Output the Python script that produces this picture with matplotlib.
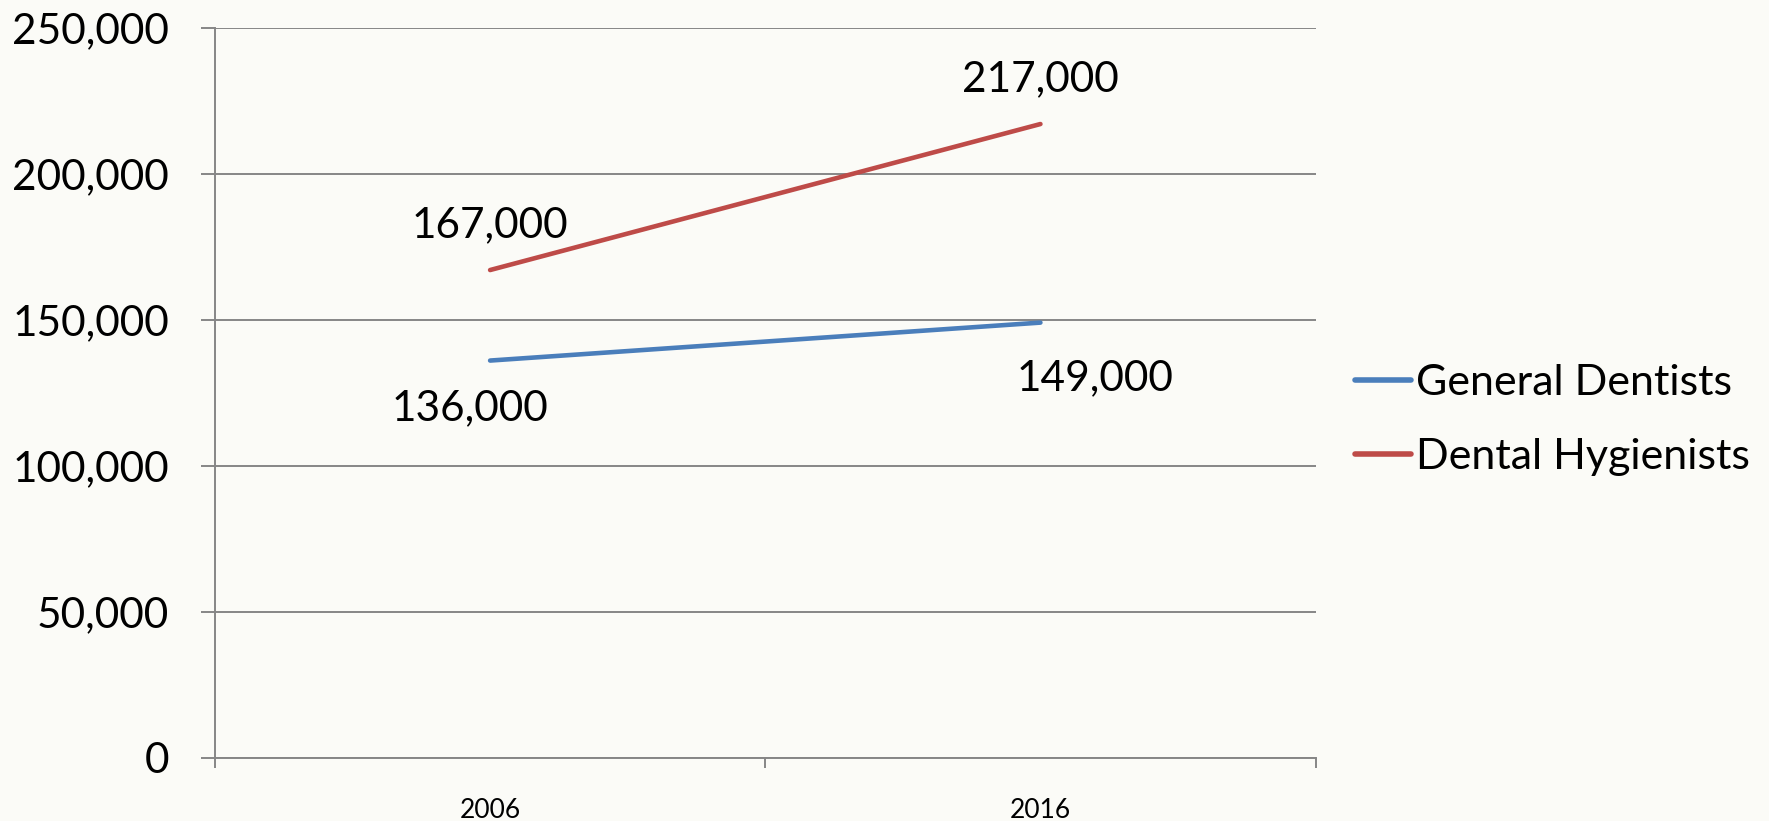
import matplotlib
matplotlib.use("Agg")
import matplotlib.pyplot as plt
from matplotlib.ticker import FixedLocator, FuncFormatter

plt.rcParams['font.family'] = ['Lato', 'DejaVu Sans']

years = ["2006", "2016"]
general_dentists = [136000, 149000]
dental_hygienists = [167000, 217000]
y_ticks = [0, 50000, 100000, 150000, 200000, 250000]

bg = "#FBFBF7"
grid_c = "#868686"
blue = "#4A7EBB"
red = "#BE4B48"

fig = plt.figure(figsize=(17.69, 8.21), dpi=100, facecolor=bg)
ax = fig.add_axes([0.1215, 0.0771, 0.6222, 0.8892], facecolor=bg)

x = list(range(len(years)))
ax.plot(x, general_dentists, color=blue, lw=3.3, solid_capstyle="round", label="General Dentists", zorder=3)
ax.plot(x, dental_hygienists, color=red, lw=3.3, solid_capstyle="round", label="Dental Hygienists", zorder=3)

ax.set_xlim(-0.5, len(years) - 0.5)
ax.set_ylim(0, 250000)

# y axis
ax.set_yticks(y_ticks)
ax.yaxis.set_major_formatter(FuncFormatter(lambda v, p: f"{int(v):,}"))
ax.tick_params(axis="y", length=10, width=1.4, color=grid_c, labelsize=30.5, pad=23)
ax.grid(axis="y", color=grid_c, lw=1.4, zorder=1)

# x axis: ticks between categories, labels at category centres
ax.xaxis.set_major_locator(FixedLocator([i - 0.5 for i in range(len(years) + 1)]))
ax.xaxis.set_major_formatter(FuncFormatter(lambda v, p: ""))
ax.xaxis.set_minor_locator(FixedLocator(x))
ax.set_xticklabels(years, minor=True)
ax.tick_params(axis="x", which="major", length=7, width=1.4, color=grid_c)
ax.tick_params(axis="x", which="minor", length=0, labelsize=19, pad=29)

for s in ["top", "right"]:
    ax.spines[s].set_visible(False)
for s in ["left", "bottom"]:
    ax.spines[s].set_color(grid_c)
    ax.spines[s].set_linewidth(1.4)

# data labels
def lab(xv, yv, dx, dy):
    ax.annotate(f"{yv:,}", (xv, yv), xytext=(dx, dy), textcoords="offset pixels",
                ha="center", va="center", fontsize=30.5, color="black")

lab(0, dental_hygienists[0], 0, 45)
lab(1, dental_hygienists[1], 0, 45)
lab(0, general_dentists[0], -20, -48)
lab(1, general_dentists[1], 55, -56)

leg = ax.legend(loc="center left", bbox_to_anchor=(1.02, 0.4626), frameon=False,
                fontsize=31, handlelength=1.3, handletextpad=0.12, labelspacing=0.85,
                borderaxespad=0)
for h in leg.get_lines():
    h.set_linewidth(4)

fig.savefig("out.png", dpi=100, facecolor=bg)
